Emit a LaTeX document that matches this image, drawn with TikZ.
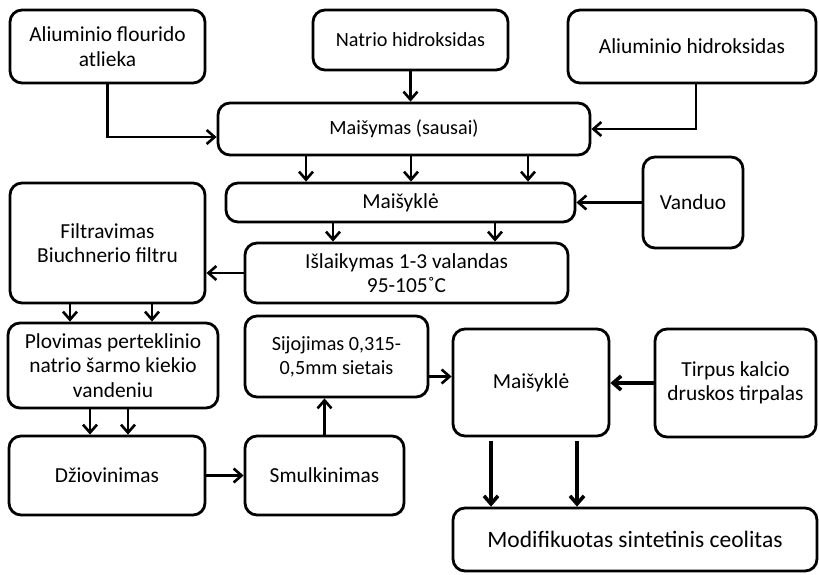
\documentclass[tikz,border=0pt]{standalone}
\usepackage{fontspec}
\setmainfont{Carlito}
\usetikzlibrary{arrows.meta}

\begin{document}
\begin{tikzpicture}[x=1pt,y=-1pt,
   box/.style={
      draw,
      line width = 2.8pt,
      rounded corners = 12pt,
      align = center,
      inner sep = 2pt,
      font = \fontsize{21.4}{24.5}\selectfont
   },
   smalltext/.style={font=\fontsize{20.2}{24}\selectfont},
   bigtext/.style={font=\fontsize{23.5}{26}\selectfont},
   arr/.style={line width=2.6pt, -{Straight Barb[length=8pt,width=14pt]}},
   thickarr/.style={arr, line width=3.6pt}
]
   \useasboundingbox (0,0) rectangle (819,574);

   \node[box, minimum width=195pt, minimum height=73pt] (fluor) at (107.5,46.5) {Aliuminio flourido\\atlieka};
   \node[box, smalltext, minimum width=195pt, minimum height=60pt] (natr) at (410.5,40) {Natrio hidroksidas};
   \node[box, minimum width=248pt, minimum height=73pt] (alhid) at (692,46.5) {Aliuminio hidroksidas};
   \node[box, smalltext, minimum width=372pt, minimum height=52pt] (sausai) at (404,129) {Maišymas (sausai)};
   \node[box, minimum width=349pt, minimum height=39pt] (maiso) at (400.5,202.5) {Maišyklė};
   \node[box, minimum width=100pt, minimum height=91pt] (vand) at (693,202.5) {Vanduo};
   \node[box, minimum width=323pt, minimum height=60pt] (laik) at (406.5,273) {Išlaikymas 1-3 valandas\\95-105˚C};
   \node[box, minimum width=195pt, minimum height=120pt] (filtr) at (107.5,243) {Filtravimas\\Biuchnerio filtru};
   \node[box, minimum width=210pt, minimum height=85pt] (plov) at (113,365.5) {Plovimas perteklinio\\natrio šarmo kiekio\\vandeniu};
   \node[box, smalltext, minimum width=183pt, minimum height=81pt] (sijo) at (336.5,356.5) {Sijojimas 0,315-\\0,5mm sietais};
   \node[box, minimum width=156pt, minimum height=107pt] (maisk) at (531,382.5) {Maišyklė};
   \node[box, minimum width=161pt, minimum height=108pt] (tirp) at (735.5,383) {Tirpus kalcio\\druskos tirpalas};
   \node[box, minimum width=196pt, minimum height=79pt] (dziov) at (107,475.5) {Džiovinimas};
   \node[box, minimum width=159pt, minimum height=79pt] (smulk) at (324.5,475.5) {Smulkinimas};
   \node[box, bigtext, minimum width=364pt, minimum height=63pt] (ceol) at (635,539.5) {Modifikuotas sintetinis ceolitas};

   \draw[arr] (fluor.south) |- ([yshift=-8pt]sausai.west);
   \draw[arr] (natr.south) -- (natr.south |- sausai.north);
   \draw[arr] ([xshift=4pt]alhid.south) |- (sausai.east);
   \foreach \dx in {-98,7,124}
      \draw[arr] ([xshift=\dx pt]sausai.south) -- ([xshift=\dx pt]sausai.south |- maiso.north);
   \draw[arr] (vand.west) -- (maiso.east);
   \foreach \dx in {-67.5,94.5}
      \draw[arr] ([xshift=\dx pt]maiso.south) -- ([xshift=\dx pt]maiso.south |- laik.north);
   \draw[arr] (laik.west) -- (laik.west -| filtr.east);
   \foreach \dx in {-37.5,44.5}
      \draw[arr] ([xshift=\dx pt]filtr.south) -- ([xshift=\dx pt]filtr.south |- plov.north);
   \foreach \dx in {-23,15}
      \draw[arr] ([xshift=\dx pt]plov.south) -- ([xshift=\dx pt]plov.south |- dziov.north);
   \draw[arr] (dziov.east) -- (smulk.west);
   \draw[arr] (smulk.north) -- (smulk.north |- sijo.south);
   \draw[arr] ([yshift=-20pt]sijo.east) -- ([yshift=-20pt]sijo.east -| maisk.west);
   \draw[thickarr] (tirp.west) -- (tirp.west -| maisk.east);
   \foreach \dx in {-40,46}
      \draw[thickarr] ([xshift=\dx pt, yshift=-4pt]maisk.south) -- ([xshift=\dx pt]maisk.south |- ceol.north);

\end{tikzpicture}
\end{document}
